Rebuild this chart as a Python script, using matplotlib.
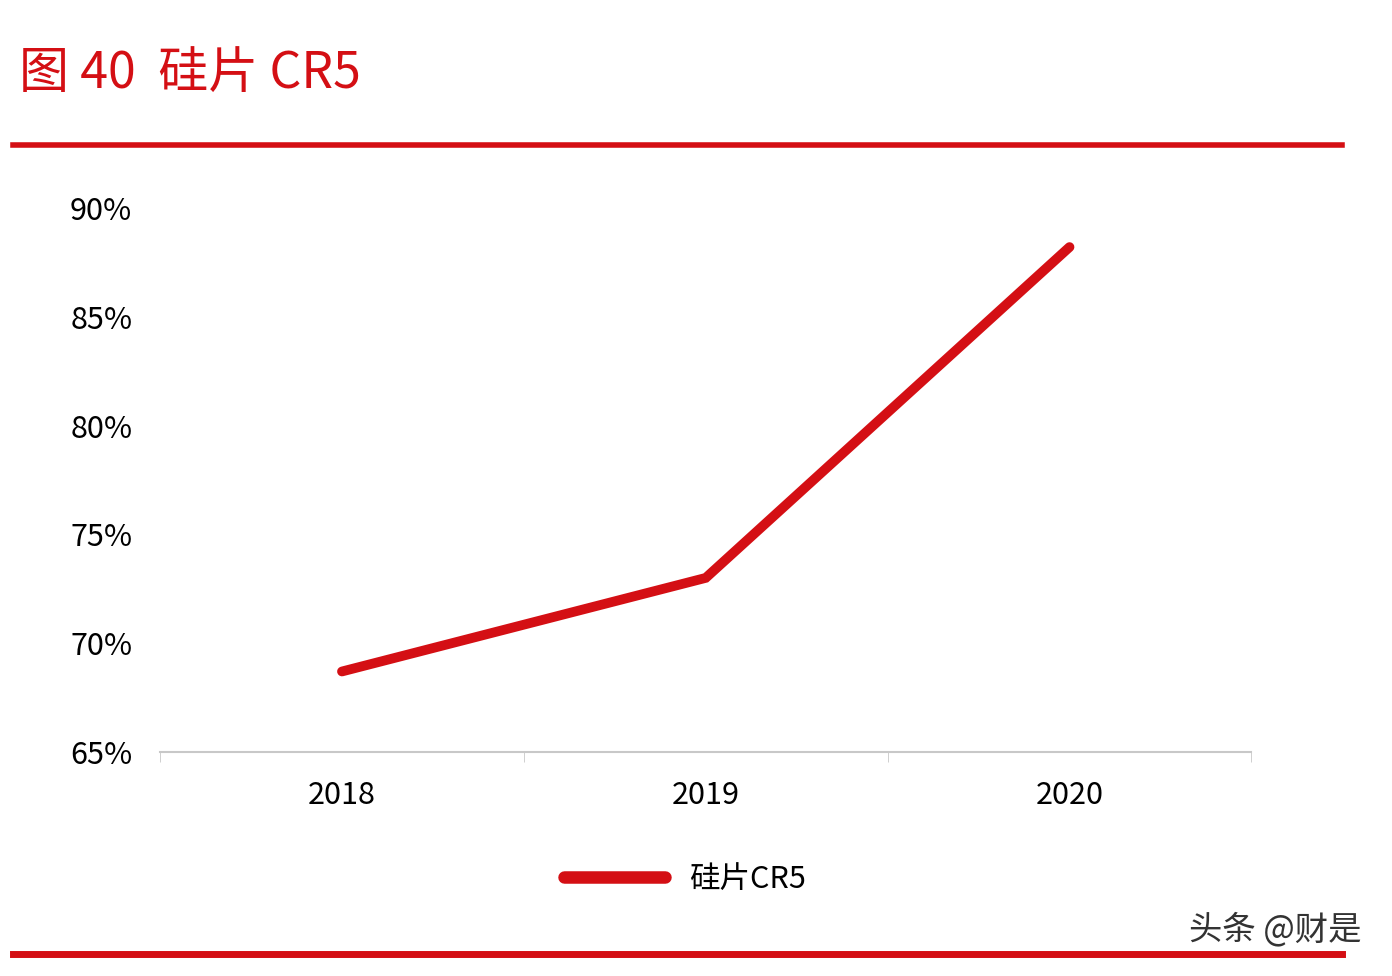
import matplotlib.pyplot as plt
from matplotlib.lines import Line2D

plt.rcParams['font.family'] = ['Noto Sans CJK SC', 'DejaVu Sans']

years = ['2018', '2019', '2020']
cr5 = [68.7, 73.0, 88.2]
y_ticks = [65, 70, 75, 80, 85, 90]
red = '#d40f14'

fig = plt.figure(figsize=(13.92, 9.76), dpi=100)
ax = fig.add_axes([0.115, 0.2295, 0.784, 0.5575])
x = range(len(years))
ax.plot(x, cr5, color=red, lw=7, solid_capstyle='round', solid_joinstyle='miter')
ax.set_xlim(-0.5, 2.5)
ax.set_ylim(65, 90)
ax.set_yticks(y_ticks)
ax.set_yticklabels([f'{v}%' for v in y_ticks], fontsize=22)
ax.set_xticks(list(x))
ax.set_xticklabels(years, fontsize=22)
ax.set_xticks([-0.5, 0.5, 1.5, 2.5], minor=True)
ax.tick_params(axis='x', which='major', length=0, pad=20)
ax.tick_params(axis='x', which='minor', length=7, color='#c8c8c8')
ax.tick_params(axis='y', length=0, pad=20)
for s in ['top', 'right', 'left']:
    ax.spines[s].set_visible(False)
ax.spines['bottom'].set_color('#c8c8c8')
ax.spines['bottom'].set_linewidth(1.5)

fig.text(0.014, 0.923, '图 40  硅片 CR5', color=red, fontsize=36, va='center')
fig.add_artist(Line2D([0.009, 0.964], [0.851, 0.851], color=red, lw=4))
fig.add_artist(Line2D([0.009, 0.964], [0.023, 0.023], color=red, lw=5))

handle = Line2D([], [], color=red, lw=9, solid_capstyle='round')
fig.legend([handle], ['硅片CR5'], loc='center', bbox_to_anchor=(0.492, 0.099),
           frameon=False, fontsize=22, handlelength=3.3)
fig.text(0.978, 0.047, '头条 @财是', fontsize=24, ha='right', va='center', color='#333333')

fig.savefig('out.png', dpi=100)
